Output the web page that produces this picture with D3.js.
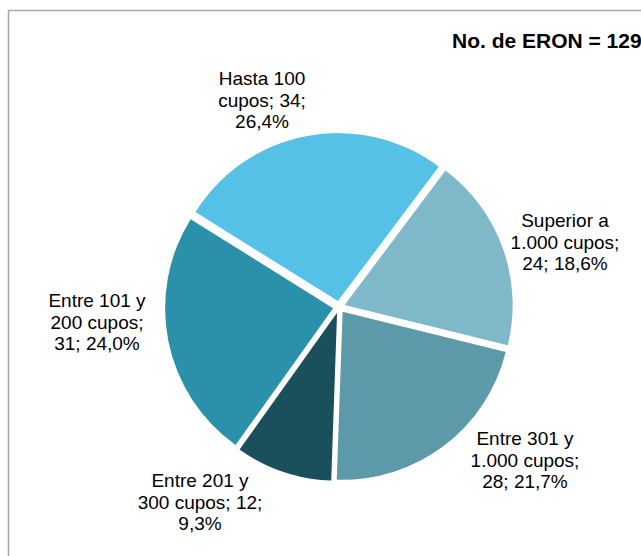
<!DOCTYPE html>
<html>
<head>
<meta charset="utf-8">
<script src="https://cdn.jsdelivr.net/npm/d3@7"></script>
<style>
  body { margin: 0; background: #fff; }
  svg { display: block; }
  text { font-family: "Liberation Sans", Arial, sans-serif; fill: #000; }
</style>
</head>
<body>
<div id="chart"></div>
<script>
// Data: number of ERON by capacity range (clockwise order, as drawn)
const categories = ["Hasta 100 cupos", "Superior a 1.000 cupos", "Entre 301 y 1.000 cupos", "Entre 201 y 300 cupos", "Entre 101 y 200 cupos"];
const values = [34, 24, 28, 12, 31];
const percents = ["26,4%", "18,6%", "21,7%", "9,3%", "24,0%"];
const labelLines = [
    ["Hasta 100", "cupos; 34;", "26,4%"],
    ["Superior a", "1.000 cupos;", "24; 18,6%"],
    ["Entre 301 y", "1.000 cupos;", "28; 21,7%"],
    ["Entre 201 y", "300 cupos; 12;", "9,3%"],
    ["Entre 101 y", "200 cupos;", "31; 24,0%"]
];
const colors = ["#55c1e7", "#7fb9c9", "#5c9aa9", "#1a4f5c", "#2b91aa"];
const title = "No. de ERON = 129";

// label block placement (center x, first baseline)
const labelAnchors = [[262, 85], [565, 227], [525, 445], [200, 487], [97, 307]];

const width = 641, height = 556;
const cx = 339, cy = 307, radius = 168, explode = 6;

const svg = d3.select('#chart')
    .append('svg')
    .attr('width', width)
    .attr('height', height);

// chart frame (only left and top edges fall inside the picture)
svg.append('rect')
    .attr('x', 8.5)
    .attr('y', 10.5)
    .attr('width', width + 20)
    .attr('height', height + 20)
    .attr('fill', 'none')
    .attr('stroke', '#a6a6a6')
    .attr('stroke-width', 1.5);

const pie = d3.pie()
    .sort(null)
    .startAngle(-58 * Math.PI / 180)
    .endAngle((360 - 58) * Math.PI / 180)
    .value(d => d);

const arc = d3.arc()
    .innerRadius(0)
    .outerRadius(radius);

const arcs = pie(values);

const g = svg.append('g')
    .attr('transform', `translate(${cx},${cy})`);

g.selectAll('path')
    .data(arcs)
    .enter()
    .append('path')
    .attr('d', arc)
    .attr('fill', (d, i) => colors[i])
    .attr('transform', d => {
        const mid = (d.startAngle + d.endAngle) / 2;
        return `translate(${Math.sin(mid) * explode},${-Math.cos(mid) * explode})`;
    });

// data labels
const labels = svg.append('g').attr('class', 'labels');
labelLines.forEach((lines, i) => {
    const t = labels.append('text')
        .attr('x', labelAnchors[i][0])
        .attr('y', labelAnchors[i][1])
        .attr('text-anchor', 'middle')
        .style('font-size', '19px');
    lines.forEach((line, j) => {
        t.append('tspan')
            .attr('x', labelAnchors[i][0])
            .attr('dy', j === 0 ? 0 : 21.5)
            .text(line);
    });
});

svg.append('text')
    .attr('x', 452)
    .attr('y', 48)
    .style('font-size', '21px')
    .style('font-weight', 'bold')
    .text(title);
</script>
</body>
</html>
